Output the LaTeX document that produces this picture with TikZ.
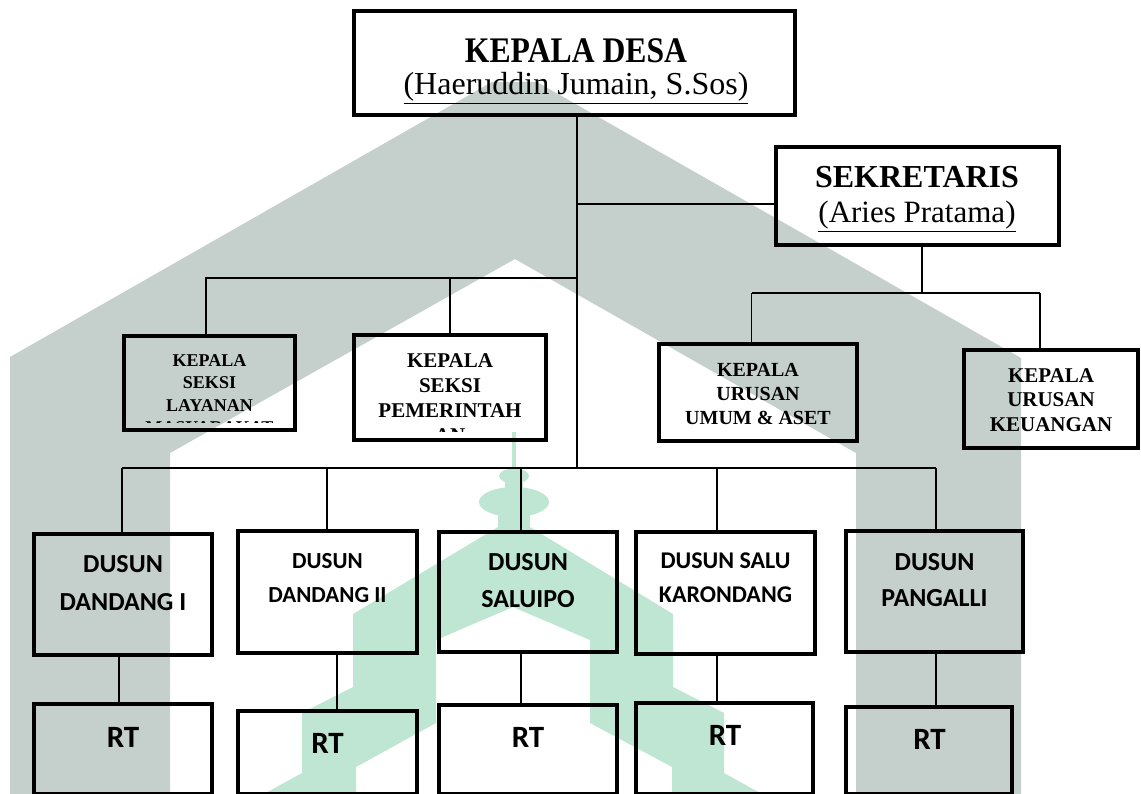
\documentclass[tikz,border=0pt]{standalone}
\usepackage{fontspec}
\usepackage{graphicx}
\setmainfont{Liberation Serif}
\newfontfamily\calib{Carlito}
\definecolor{wmgray}{RGB}{197,207,203}
\definecolor{wmgreen}{RGB}{190,230,210}
\newcommand{\orgbox}[5]{\node[box, minimum width={#4-#2}, minimum height={#5-#3}] (#1) at ({(#2+#4)/2},{(#3+#5)/2}) {};}
\begin{document}
\begin{tikzpicture}[x=1pt,y=-1pt,
  box/.style={draw=black, line width=4pt, rectangle, inner sep=0pt},
  link/.style={draw=black, line width=1.6pt},
  lbl/.style={inner sep=0pt, align=center, text=black},
]
\useasboundingbox (0,0) rectangle (1141,794);
% ---- watermark ----
\fill[wmgray] (10,794) -- (10,357) -- (492,82) -- (537,82) -- (1021,358) -- (1021,794)
  -- (856,794) -- (856,453) -- (515,259) -- (170,453) -- (170,794) -- cycle;
\fill[wmgreen] (511.5,432) rectangle (515.5,472);
\fill[wmgreen] (514,476) ellipse [x radius=15, y radius=7.5];
\fill[wmgreen] (505,476) rectangle (523,495);
\fill[wmgreen] (514,502) ellipse [x radius=35, y radius=15];
\fill[wmgreen] (498,512) rectangle (530,532);
\fill[wmgreen] (498,527) -- (353,614) -- (353,687) -- (302,713) -- (302,773) -- (264,794)
  -- (356,794) -- (356,767) -- (436,723) -- (436,640) -- (513,607) -- (590,640)
  -- (590,723) -- (672,767) -- (672,794) -- (762,794) -- (724,773) -- (724,713)
  -- (673,687) -- (673,614) -- (530,527) -- cycle;
% ---- boxes ----
\orgbox{kd}{354}{11}{795}{115}
\orgbox{sek}{776}{147}{1059}{245}
\orgbox{lay}{124}{336}{295}{430}
\orgbox{pem}{354}{335}{546}{440}
\orgbox{umum}{659}{344}{857}{441}
\orgbox{keu}{964}{350}{1138}{448}
\orgbox{d1}{34}{534}{212}{655}
\orgbox{d2}{238}{531}{417}{653}
\orgbox{d3}{439}{532}{617}{652}
\orgbox{d4}{636}{532}{815}{654}
\orgbox{d5}{846}{531}{1023}{652}
\orgbox{r1}{34}{704}{212}{794}
\orgbox{r2}{238}{711}{417}{794}
\orgbox{r3}{439}{705}{617}{794}
\orgbox{r4}{636}{703}{813}{794}
\orgbox{r5}{846}{707}{1012}{794}
% ---- connector coordinates ----
\coordinate (tr) at (577,468);
\coordinate (sj) at (577,204);
\coordinate (l2) at (577,278);
\coordinate (l2a) at (206,278);
\coordinate (l2b) at (450,278);
\coordinate (s2) at (922,293);
\coordinate (s2a) at (751.5,293);
\coordinate (s2b) at (1040,293);
\coordinate (b1) at (122,468);
\coordinate (b2) at (327,468);
\coordinate (b3) at (521,468);
\coordinate (b4) at (717,468);
\coordinate (b5) at (936,468);
\coordinate (q1) at (119,680);
\coordinate (q2) at (337,680);
\coordinate (q3) at (521,680);
\coordinate (q4) at (717,680);
\coordinate (q5) at (936,680);
% ---- connectors ----
\draw[link] (kd.south -| tr) -- (tr);
\draw[link] (sj) -- (sj -| sek.west);
\draw[link] (l2) -- (l2a) -- (l2a |- lay.north);
\draw[link] (l2b) -- (l2b |- pem.north);
\draw[link] (sek.south -| s2) -- (s2);
\draw[link] (s2a) -- (s2b);
\draw[link] (s2a) -- (s2a |- umum.north);
\draw[link] (s2b) -- (s2b |- keu.north);
\draw[link] (b1) -- (b5);
\foreach \i in {1,...,5}{
  \draw[link] (b\i) -- (b\i |- d\i.north);
  \draw[link] (q\i |- d\i.south) -- (q\i |- r\i.north);
}
% ---- texts ----
\node[lbl, anchor=base, font=\bfseries\fontsize{36}{40}\selectfont] (kdt1) at (576,63) {\scalebox{0.88}[1]{KEPALA DESA}};
\node[lbl, anchor=base, font=\fontsize{32}{36}\selectfont] (kdt2) at (576,95) {\underline{(Haeruddin Jumain, S.Sos)}};
\node[lbl, anchor=base, font=\bfseries\fontsize{32}{36}\selectfont] (sekt1) at (917,188) {SEKRETARIS};
\node[lbl, anchor=base, font=\fontsize{31}{36}\selectfont] (sekt2) at (917,223) {\underline{(Aries Pratama)}};
\begin{scope}
  \clip (126,338) rectangle (293,422.5);
  \node[lbl, anchor=north, font=\bfseries\fontsize{18}{22.5}\selectfont] (layt) at (209.5,354) {KEPALA\\SEKSI\\LAYANAN\\MASYARAKAT};
\end{scope}
\begin{scope}
  \clip (356,337) rectangle (544,431);
  \node[lbl, anchor=north, font=\bfseries\fontsize{21}{25}\selectfont] (pemt) at (450,353) {KEPALA\\SEKSI\\PEMERINTAH\\AN};
\end{scope}
\node[lbl, anchor=north, font=\bfseries\fontsize{20}{24}\selectfont] (umumt) at (758,363) {KEPALA\\URUSAN\\UMUM \& ASET};
\node[lbl, anchor=north, font=\bfseries\fontsize{21}{24.5}\selectfont] (keut) at (1051,368) {KEPALA\\URUSAN\\KEUANGAN};
\node[lbl, anchor=north, font=\calib\bfseries\fontsize{26}{38}\selectfont] (d1t) at (123,555) {DUSUN\\DANDANG I};
\node[lbl, anchor=north, font=\calib\bfseries\fontsize{23}{34}\selectfont] (d2t) at (327.5,553) {DUSUN\\DANDANG II};
\node[lbl, anchor=north, font=\calib\bfseries\fontsize{26}{37}\selectfont] (d3t) at (528,553) {DUSUN\\SALUIPO};
\node[lbl, anchor=north, font=\calib\bfseries\fontsize{24}{34}\selectfont] (d4t) at (725.5,553) {DUSUN SALU\\KARONDANG};
\node[lbl, anchor=north, font=\calib\bfseries\fontsize{26}{36}\selectfont] (d5t) at (934.5,553) {DUSUN\\PANGALLI};
\node[lbl, anchor=north, font=\calib\bfseries\fontsize{31}{36}\selectfont] (r1t) at (123,727) {RT};
\node[lbl, anchor=north, font=\calib\bfseries\fontsize{31}{36}\selectfont] (r2t) at (327.5,733) {RT};
\node[lbl, anchor=north, font=\calib\bfseries\fontsize{31}{36}\selectfont] (r3t) at (528,727) {RT};
\node[lbl, anchor=north, font=\calib\bfseries\fontsize{31}{36}\selectfont] (r4t) at (725,725) {RT};
\node[lbl, anchor=north, font=\calib\bfseries\fontsize{31}{36}\selectfont] (r5t) at (929.5,729) {RT};
\end{tikzpicture}
\end{document}
